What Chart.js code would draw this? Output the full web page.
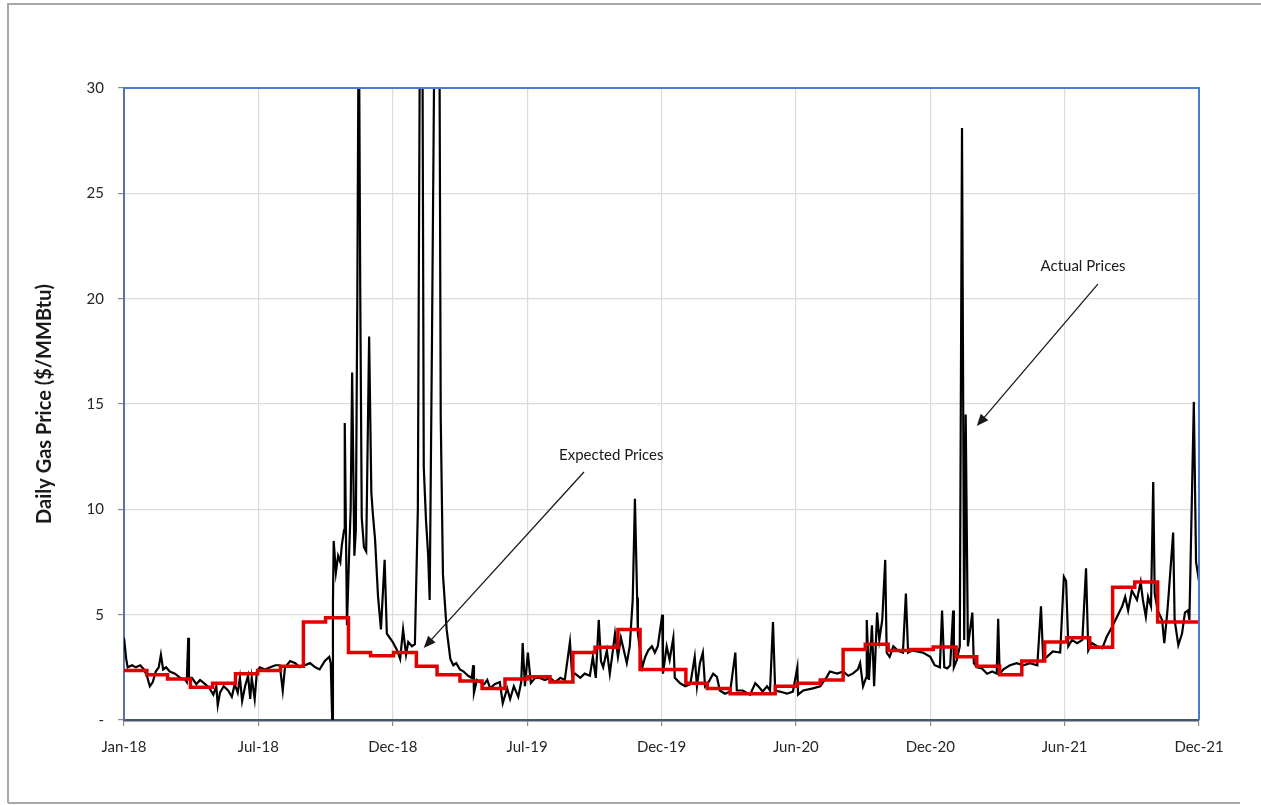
<!DOCTYPE html>
<html>
<head>
<meta charset="utf-8">
<script src="https://cdn.jsdelivr.net/npm/chart.js"></script>
<style>
  body { margin: 0; background: #fff; }
  canvas { display: block; }
</style>
</head>
<body>
<canvas id="myChart" width="1261" height="805"></canvas>
<script>
// x = days since 2018-01-01, axis ends on 2021-12-27 (Excel major unit 182 days)
const xTickDays = [0, 182, 364, 546, 728, 910, 1092, 1274, 1456];
const xTickLabels = ['Jan-18', 'Jul-18', 'Dec-18', 'Jul-19', 'Dec-19', 'Jun-20', 'Dec-20', 'Jun-21', 'Dec-21'];

// expected prices - one value per month (last entry closes the final step)
const expectedDays = [0, 31, 59, 90, 120, 151, 181, 212, 243, 273, 304, 334,
  365, 396, 424, 455, 485, 516, 546, 577, 608, 638, 669, 699,
  730, 761, 790, 821, 851, 882, 912, 943, 974, 1004, 1035, 1065,
  1096, 1127, 1155, 1186, 1216, 1247, 1277, 1308, 1339, 1369, 1400, 1430,
  1456];
const expectedPrices = [2.3, 2.35, 2.15, 1.95, 1.55, 1.75, 2.2, 2.35, 2.55, 4.65, 4.85, 3.2,
  3.05, 3.2, 2.55, 2.15, 1.85, 1.5, 1.95, 2.05, 1.8, 3.2, 3.45, 4.3,
  2.4, 2.4, 1.75, 1.5, 1.25, 1.25, 1.6, 1.75, 1.9, 3.35, 3.6, 3.3,
  3.35, 3.47, 3.0, 2.55, 2.15, 2.8, 3.7, 3.9, 3.45, 6.3, 6.55, 4.65,
  4.65];

// actual daily prices (spikes above 30 run off the top)
const actualDays = [0, 3, 5, 11, 16, 22, 27, 31, 35, 39, 43, 47, 50, 53, 57, 62, 69, 76, 83, 85, 87, 88, 92, 98,
  103, 110, 116, 121, 125, 127, 130, 135, 141, 146, 150, 154, 157, 160, 164, 168, 171, 173, 177, 180,
  184, 191, 198, 205, 211, 215, 218, 225, 232, 238, 245, 252, 259, 265, 272, 278, 280,
  282, 283, 284, 287, 290, 293, 295, 298, 299, 302, 305, 307, 309, 312, 314, 316, 318, 320, 322, 325, 328,
  332, 335, 337, 340, 344, 348, 353, 356, 360, 364, 370, 374, 378, 382, 385, 390, 394,
  398, 401, 404, 406, 409, 412, 414, 417, 421, 424, 427, 429, 432, 437, 442, 446, 450, 455, 460, 466,
  471, 473, 474, 478, 482, 488, 492, 496, 502, 509, 513, 519, 523, 528, 534, 538, 540, 543, 547, 551,
  557, 563, 570, 577, 584, 591, 597, 604, 607, 611, 618, 624, 631, 635, 639, 643, 646, 649, 654, 658,
  661, 665, 669, 673, 681, 685, 689, 692, 695, 696, 702, 706, 710, 715, 719, 723, 729, 730, 735, 739,
  744, 746, 753, 760, 767, 773, 776, 780, 784, 787, 791, 798, 803, 807, 814, 821, 828, 830, 838, 848,
  855, 859, 865, 871, 875, 879, 882, 888, 898, 906, 912, 913, 920, 933, 943, 952, 956, 966, 974, 981,
  987, 994, 997, 1001, 1005, 1006, 1009, 1013, 1016, 1020, 1023, 1027, 1031, 1033, 1037, 1042, 1048,
  1055, 1059, 1062, 1067, 1074, 1082, 1092, 1098, 1105, 1108, 1111, 1115, 1119, 1123, 1124, 1128, 1132,
  1135, 1138, 1140, 1143, 1149, 1151, 1155, 1162, 1169, 1176, 1182, 1184, 1186, 1191, 1200, 1209, 1218,
  1227, 1237, 1242, 1245, 1250, 1258, 1268, 1273, 1276, 1279, 1284, 1291, 1298, 1303, 1306, 1311, 1318,
  1325, 1331, 1338, 1345, 1352, 1356, 1360, 1365, 1372, 1377, 1380, 1384, 1387, 1391, 1394, 1396, 1400,
  1406, 1409, 1413, 1415, 1421, 1423, 1428, 1433, 1437, 1441, 1443, 1449, 1452, 1456];
const actualPrices = [3.9, 2.9, 2.5, 2.6, 2.5, 2.6, 2.4, 2.1, 1.6, 1.8, 2.3, 2.5, 3.1, 2.4, 2.5, 2.3, 2.2, 2.0, 1.9, 1.8, 3.9, 2.0, 2.0, 1.7,
  1.9, 1.7, 1.5, 1.2, 1.6, 0.7, 1.3, 1.6, 1.4, 1.1, 1.7, 1.3, 2.0, 0.9, 1.6, 2.1, 1.0, 2.0, 1.0, 2.3,
  2.5, 2.4, 2.5, 2.6, 2.6, 1.4, 2.5, 2.8, 2.7, 2.5, 2.6, 2.7, 2.5, 2.4, 2.8, 3.0, 2.7,
  0.0, 5.5, 8.5, 7.0, 7.8, 7.5, 8.3, 9.0, 14.1, 4.5, 8.0, 10.0, 16.5, 7.8, 9.0, 20.0, 35, 20.2, 9.6, 8.2, 8.0,
  18.2, 10.8, 9.8, 8.6, 5.9, 4.3, 7.6, 4.1, 3.9, 3.7, 3.3, 2.9, 4.3, 3.1, 3.7, 3.5, 3.6,
  10.0, 35, 35, 12.0, 9.5, 7.8, 5.7, 17.5, 35, 35, 35, 14.3, 6.9, 4.3, 2.9, 2.6, 2.7, 2.4, 2.3, 2.1,
  2.0, 2.6, 1.3, 1.9, 1.8, 1.7, 1.9, 1.5, 1.7, 1.8, 0.8, 1.5, 1.0, 1.6, 1.1, 1.8, 3.65, 1.6, 3.2, 1.75,
  2.0, 2.0, 1.9, 2.0, 1.8, 2.0, 1.9, 3.7, 2.1, 2.2, 2.0, 2.2, 2.1, 3.0, 2.0, 4.75, 2.8, 2.5, 3.3, 2.2,
  3.0, 4.1, 3.0, 3.9, 2.7, 3.5, 5.7, 10.5, 5.8, 4.1, 2.5, 3.0, 3.3, 3.5, 3.2, 3.5, 5.0, 2.2, 3.5, 2.85,
  3.9, 2.0, 1.75, 1.6, 1.7, 3.0, 1.6, 2.7, 3.2, 1.6, 1.75, 2.2, 2.05, 1.4, 1.25, 1.35, 3.2, 1.4, 1.4, 1.2,
  1.75, 1.6, 1.35, 1.6, 1.4, 4.65, 1.4, 1.35, 1.25, 1.35, 2.5, 1.2, 1.4, 1.5, 1.6, 2.05, 2.3, 2.2, 2.3, 2.1,
  2.2, 2.4, 2.7, 1.6, 2.0, 4.75, 1.9, 4.5, 1.6, 5.1, 3.8, 4.75, 7.6, 3.2, 3.0, 3.5, 3.3,
  3.2, 6.0, 3.2, 3.3, 3.25, 3.2, 3.0, 2.6, 2.5, 5.2, 2.5, 2.45, 2.6, 5.2, 2.5, 2.85, 3.5,
  28.1, 3.8, 14.5, 3.5, 5.1, 2.7, 2.5, 2.45, 2.2, 2.3, 2.2, 4.8, 2.2, 2.4, 2.6, 2.7, 2.6,
  2.7, 2.6, 5.4, 2.85, 3.0, 3.25, 3.2, 6.8, 6.6, 3.5, 3.8, 3.65, 3.8, 7.2, 3.3, 3.65, 3.5,
  3.4, 3.95, 4.4, 4.9, 5.4, 5.85, 5.2, 6.15, 5.7, 6.55, 5.7, 4.9, 5.85, 5.4, 11.3, 6.0, 5.2,
  4.75, 3.65, 5.1, 6.0, 8.9, 4.75, 3.55, 4.1, 5.1, 5.2, 4.75, 15.1, 7.5, 6.6];

// annotation text + arrows, anchored in data units
const notes = [
  { text: 'Expected Prices', at: [660, 12.58], from: [623, 11.77], to: [406, 3.42] },
  { text: 'Actual Prices', at: [1299, 21.55], from: [1319, 20.69], to: [1155, 13.95] }
];

const FONT = 'Lato, "Open Sans", sans-serif';

const pageDecor = {
  id: 'pageDecor',
  beforeDraw(chart) {
    const ctx = chart.ctx;
    ctx.save();
    ctx.fillStyle = '#ffffff';
    ctx.fillRect(0, 0, chart.width, chart.height);
    // figure frame (scanned page)
    ctx.strokeStyle = '#a8a8a8';
    ctx.lineWidth = 2;
    ctx.beginPath();
    ctx.moveTo(8, 803); ctx.lineTo(8, 4); ctx.lineTo(1261, 4);
    ctx.moveTo(8, 803); ctx.lineTo(1240, 803);
    ctx.stroke();
    ctx.restore();
  },
  afterDatasetsDraw(chart) {
    const ctx = chart.ctx;
    const a = chart.chartArea;
    const xs = chart.scales.x, ys = chart.scales.y;
    ctx.save();
    // blue plot-area border (top / right)
    ctx.strokeStyle = '#4a7bcf';
    ctx.lineWidth = 2;
    ctx.beginPath();
    ctx.moveTo(a.left, a.top); ctx.lineTo(a.right, a.top); ctx.lineTo(a.right, a.bottom);
    ctx.stroke();

    ctx.fillStyle = '#1a1a1a';
    ctx.strokeStyle = '#1a1a1a';
    ctx.font = '15px ' + FONT;
    ctx.textAlign = 'center';
    ctx.textBaseline = 'middle';
    notes.forEach(n => {
      ctx.fillText(n.text, xs.getPixelForValue(n.at[0]), ys.getPixelForValue(n.at[1]));
      const x1 = xs.getPixelForValue(n.from[0]), y1 = ys.getPixelForValue(n.from[1]);
      const x2 = xs.getPixelForValue(n.to[0]), y2 = ys.getPixelForValue(n.to[1]);
      const ang = Math.atan2(y2 - y1, x2 - x1);
      const hl = 12, hw = 5;
      ctx.lineWidth = 1.3;
      ctx.beginPath();
      ctx.moveTo(x1, y1);
      ctx.lineTo(x2 - Math.cos(ang) * hl * 0.8, y2 - Math.sin(ang) * hl * 0.8);
      ctx.stroke();
      ctx.beginPath();
      ctx.moveTo(x2, y2);
      ctx.lineTo(x2 - Math.cos(ang) * hl + Math.sin(ang) * hw, y2 - Math.sin(ang) * hl - Math.cos(ang) * hw);
      ctx.lineTo(x2 - Math.cos(ang) * hl - Math.sin(ang) * hw, y2 - Math.sin(ang) * hl + Math.cos(ang) * hw);
      ctx.closePath();
      ctx.fill();
    });
    ctx.restore();
  }
};

const ctx = document.getElementById('myChart').getContext('2d');
const myChart = new Chart(ctx, {
  type: 'line',
  data: {
    datasets: [{
      label: 'Expected Prices',
      data: expectedDays.map((d, i) => ({ x: d, y: expectedPrices[i] })),
      borderColor: '#e00000',
      borderWidth: 3.5,
      stepped: 'after',
      pointRadius: 0,
      fill: false
    }, {
      label: 'Actual Prices',
      data: actualDays.map((d, i) => ({ x: d, y: actualPrices[i] })),
      borderColor: '#000000',
      borderWidth: 2.2,
      pointRadius: 0,
      tension: 0,
      fill: false
    }]
  },
  options: {
    responsive: false,
    animation: false,
    events: [],
    layout: { padding: { left: 20, right: 62, top: 88, bottom: 0 } },
    plugins: {
      legend: { display: false },
      tooltip: { enabled: false }
    },
    scales: {
      x: {
        type: 'linear',
        min: 0,
        max: 1456,
        afterBuildTicks: s => { s.ticks = xTickDays.map(v => ({ value: v })); },
        afterFit: s => { s.height = 85; },
        ticks: {
          callback: (v, i) => xTickLabels[i],
          color: '#262626',
          font: { family: FONT, size: 15 },
          padding: 12,
          maxRotation: 0,
          autoSkip: false
        },
        grid: { color: '#dcdcdc', lineWidth: 1.2, tickLength: 6, tickColor: '#8a8a8a' },
        border: { color: '#4a566c', width: 2.5 }
      },
      y: {
        min: 0,
        max: 30,
        afterFit: s => { s.width = 104; },
        ticks: {
          stepSize: 5,
          callback: v => v === 0 ? '-' : v,
          color: '#262626',
          font: { family: FONT, size: 15 },
          padding: 14
        },
        grid: { color: '#dcdcdc', lineWidth: 1.2, tickLength: 6, tickColor: '#8a8a8a' },
        border: { color: '#5572a8', width: 2 },
        title: {
          display: true,
          text: 'Daily Gas Price ($/MMBtu)',
          color: '#1a1a1a',
          font: { family: FONT, size: 20, weight: 'bold' },
          padding: { top: 13, bottom: 0 }
        }
      }
    }
  },
  plugins: [pageDecor]
});
</script>
</body>
</html>
